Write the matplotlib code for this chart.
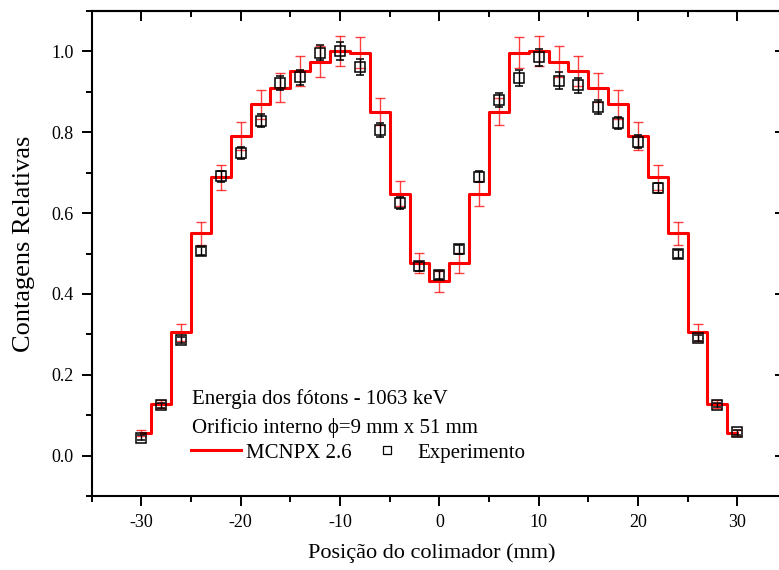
import numpy as np
import matplotlib
matplotlib.use("Agg")
import matplotlib.pyplot as plt
from matplotlib.lines import Line2D
from matplotlib.ticker import MultipleLocator, FormatStrFormatter

plt.rcParams['font.family'] = ['Liberation Serif', 'DejaVu Serif']
plt.rcParams['axes.unicode_minus'] = False

# Collimator positions (mm)
positions = [-30, -28, -26, -24, -22, -20, -18, -16, -14, -12, -10, -8, -6, -4, -2, 0,
             2, 4, 6, 8, 10, 12, 14, 16, 18, 20, 22, 24, 26, 28, 30]

# MCNPX 2.6 simulation (relative counts) and its uncertainty
mcnpx = [0.056, 0.128, 0.305, 0.550, 0.689, 0.791, 0.869, 0.910, 0.951, 0.975, 1.000, 0.997,
         0.851, 0.648, 0.477, 0.431, 0.477, 0.648, 0.851, 0.997, 1.000, 0.975, 0.951, 0.910,
         0.869, 0.791, 0.689, 0.550, 0.305, 0.128, 0.056]
mcnpx_err = [0.007, 0.010, 0.021, 0.028, 0.031, 0.035, 0.035, 0.036, 0.037, 0.039, 0.037, 0.038,
             0.033, 0.031, 0.025, 0.025, 0.025, 0.031, 0.033, 0.038, 0.037, 0.038, 0.037, 0.036,
             0.035, 0.035, 0.031, 0.028, 0.021, 0.010, 0.007]

# Experimental measurements and their uncertainty
experiment = [0.044, 0.124, 0.286, 0.507, 0.691, 0.749, 0.829, 0.922, 0.936, 0.997, 1.001, 0.961,
              0.806, 0.625, 0.468, 0.446, 0.510, 0.690, 0.880, 0.934, 0.986, 0.928, 0.916, 0.862,
              0.823, 0.777, 0.662, 0.498, 0.291, 0.125, 0.058]
experiment_err = [0.006, 0.006, 0.008, 0.010, 0.014, 0.015, 0.015, 0.018, 0.018, 0.018, 0.022, 0.020,
                  0.017, 0.014, 0.012, 0.010, 0.012, 0.014, 0.018, 0.019, 0.021, 0.020, 0.019, 0.018,
                  0.015, 0.016, 0.012, 0.010, 0.008, 0.006, 0.006]

fig = plt.figure(figsize=(7.79, 5.70), dpi=100)
# the right frame sits just past the image edge, as in the original
ax = fig.add_axes([0.1177, 0.1298, 0.8925, 0.8509])

# === MCNPX step profile with its error bars ===
ax.plot(positions, mcnpx, color='red', lw=2.2, drawstyle='steps-mid', zorder=3)
ax.errorbar(positions, mcnpx, yerr=mcnpx_err, fmt='none', ecolor=(1, 0, 0, 0.75),
            elinewidth=1.0, capsize=3.8, capthick=1.0, zorder=2)

# === Experimental points ===
ax.errorbar(positions, experiment, yerr=experiment_err, fmt='s', ms=6.8, mfc='none',
            mec='black', mew=1.1, ecolor='black', elinewidth=1.0, capsize=3.0,
            capthick=1.0, zorder=4)

ax.set_xlim(-35, 35)
ax.set_ylim(-0.1, 1.1)
ax.xaxis.set_major_locator(MultipleLocator(10))
ax.xaxis.set_minor_locator(MultipleLocator(5))
ax.yaxis.set_major_locator(MultipleLocator(0.2))
ax.yaxis.set_minor_locator(MultipleLocator(0.1))
ax.yaxis.set_major_formatter(FormatStrFormatter('%.1f'))

for s in ax.spines.values():
    s.set_linewidth(1.5)
ax.spines['right'].set_visible(False)
ax.tick_params(which='major', direction='out', length=7, width=1.4, labelsize=13, pad=6)
ax.tick_params(which='minor', direction='out', length=4, width=1.4)

# inward ticks on the top and right frame
top = ax.secondary_xaxis('top')
top.xaxis.set_major_locator(MultipleLocator(10))
top.xaxis.set_minor_locator(MultipleLocator(5))
top.tick_params(which='major', direction='in', length=7, width=1.4, labeltop=False)
top.tick_params(which='minor', direction='in', length=4, width=1.4)
top.spines['top'].set_linewidth(1.5)
right = ax.secondary_yaxis('right')
right.yaxis.set_major_locator(MultipleLocator(0.2))
right.yaxis.set_minor_locator(MultipleLocator(0.1))
right.tick_params(which='major', direction='in', length=9, width=1.4, labelright=False)
right.tick_params(which='minor', direction='in', length=4, width=1.4)
right.spines['right'].set_visible(False)

ax.set_xlabel("Posição do colimador (mm)", fontsize=16)
ax.xaxis.set_label_coords(0.4887, -0.098)
ax.set_ylabel("Contagens Relativas", fontsize=19)
ax.yaxis.set_label_coords(-0.082, 0.5206)

# annotation block and legend
ax.text(0.1442, 0.200, "Energia dos fótons - 1063 keV", transform=ax.transAxes,
        fontsize=15, ha='left', va='center')
ax.text(0.1442, 0.140, "Orificio interno ϕ=9 mm x 51 mm", transform=ax.transAxes,
        fontsize=15, ha='left', va='center')
handles = [Line2D([], [], color='red', lw=2.2),
           Line2D([], [], ls='none', marker='s', ms=6, mfc='none', mec='black', mew=0.9)]
ax.legend(handles, ["MCNPX 2.6", "Experimento"], ncol=2, frameon=False, fontsize=15,
          loc='center left', bbox_to_anchor=(0.1428, 0.0887), borderaxespad=0, borderpad=0,
          handlelength=2.4, handletextpad=0.25, columnspacing=0.5)

fig.savefig("out.png", dpi=100)
